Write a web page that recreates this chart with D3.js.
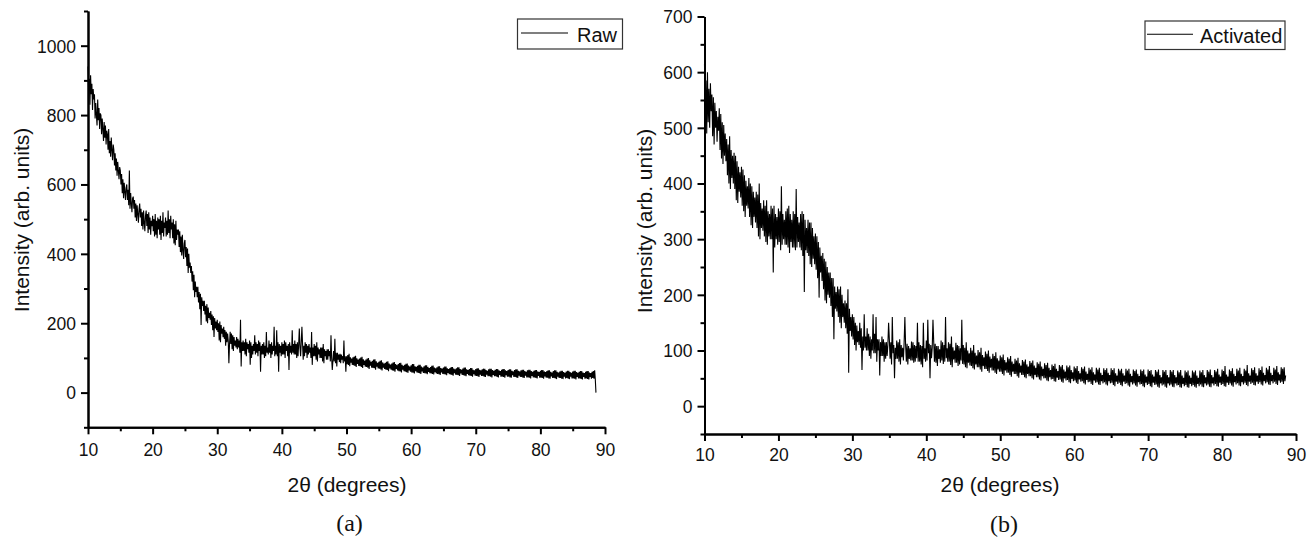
<!DOCTYPE html>
<html>
<head>
<meta charset="utf-8">
<script src="https://cdn.jsdelivr.net/npm/d3@7/dist/d3.min.js"></script>
<style>
  html, body { margin: 0; padding: 0; background: #fff; }
  svg { display: block; }
  text { font-family: "Liberation Sans", Arial, sans-serif; fill: #111; }
</style>
</head>
<body>
<svg id="chart" width="1316" height="538"></svg>
<script>
// ---- DATA ----
// 2θ grid: 10.0° to 88.6° in 0.1° steps (one row = one degree)
const twoThetaStart = 10;
const twoThetaStep = 0.1;

const rawIntensity = [
  940, 870, 905, 830, 915, 860, 890, 815, 875, 845,
  860, 790, 835, 800, 770, 845, 785, 820, 760, 805,
  800, 745, 790, 760, 725, 780, 735, 770, 715, 755,
  745, 700, 760, 690, 725, 680, 735, 700, 670, 715,
  700, 655, 690, 640, 675, 625, 665, 640, 615, 650,
  640, 600, 630, 575, 615, 560, 605, 580, 555, 590,
  600, 555, 585, 540, 640, 530, 575, 545, 520, 560,
  565, 530, 555, 505, 545, 495, 540, 515, 490, 530,
  545, 505, 530, 480, 520, 470, 525, 490, 465, 510,
  525, 480, 515, 460, 520, 470, 505, 455, 495, 480,
  510, 465, 500, 450, 515, 455, 495, 445, 505, 470,
  500, 455, 510, 440, 495, 460, 520, 450, 490, 475,
  505, 450, 495, 455, 525, 460, 500, 445, 510, 470,
  490, 445, 500, 430, 485, 425, 495, 440, 470, 455,
  470, 420, 465, 405, 450, 395, 455, 410, 385, 430,
  440, 390, 420, 365, 415, 345, 400, 360, 375, 345,
  365, 320, 350, 295, 340, 275, 320, 290, 305, 275,
  305, 260, 290, 240, 285, 195, 275, 250, 265, 235,
  265, 225, 250, 205, 255, 200, 245, 215, 230, 210,
  235, 195, 225, 180, 220, 160, 215, 185, 205, 180,
  210, 175, 200, 150, 205, 145, 195, 170, 185, 160,
  190, 155, 180, 135, 175, 145, 170, 150, 85, 140,
  175, 140, 170, 125, 165, 120, 160, 135, 150, 130,
  160, 125, 155, 130, 150, 115, 210, 75, 145, 120,
  150, 120, 145, 110, 155, 105, 145, 125, 140, 115,
  150, 80, 145, 100, 135, 110, 140, 120, 165, 110,
  145, 115, 140, 105, 150, 120, 145, 60, 135, 110,
  140, 110, 145, 100, 135, 105, 175, 115, 130, 110,
  150, 115, 140, 100, 145, 110, 135, 120, 190, 105,
  135, 110, 180, 105, 145, 60, 140, 115, 135, 105,
  145, 110, 140, 110, 150, 100, 145, 120, 135, 105,
  140, 65, 145, 115, 135, 110, 180, 115, 140, 110,
  150, 110, 140, 100, 145, 105, 140, 185, 130, 105,
  145, 190, 140, 95, 135, 105, 145, 115, 140, 100,
  135, 110, 140, 115, 130, 100, 175, 80, 130, 105,
  140, 105, 135, 95, 145, 90, 130, 110, 125, 100,
  130, 100, 130, 90, 140, 85, 125, 105, 120, 95,
  125, 95, 125, 105, 120, 90, 165, 100, 65, 92,
  120, 90, 155, 85, 115, 75, 115, 95, 110, 88,
  112, 85, 110, 95, 105, 85, 150, 90, 105, 60,
  105, 82, 108, 80, 112, 76, 102, 86, 98, 80,
  102, 79, 104, 77, 106, 74, 99, 83, 95, 77,
  98, 76, 101, 74, 103, 71, 96, 80, 92, 75,
  95, 74, 98, 72, 100, 68, 93, 78, 89, 72,
  92, 71, 95, 70, 96, 66, 90, 75, 86, 70,
  89, 69, 92, 67, 93, 64, 87, 72, 84, 68,
  86, 66, 89, 65, 90, 62, 84, 70, 81, 66,
  84, 64, 87, 63, 88, 60, 82, 68, 79, 64,
  82, 62, 85, 61, 86, 58, 80, 66, 77, 62,
  80, 60, 83, 59, 84, 57, 78, 64, 75, 60,
  79, 58, 82, 57, 82, 55, 76, 62, 74, 58,
  77, 57, 80, 56, 80, 54, 75, 61, 72, 57,
  76, 56, 79, 55, 79, 53, 74, 60, 71, 56,
  74, 55, 77, 54, 78, 52, 72, 59, 70, 55,
  73, 54, 76, 53, 76, 51, 71, 58, 69, 54,
  72, 53, 75, 52, 75, 50, 70, 57, 68, 53,
  71, 52, 74, 51, 74, 49, 69, 56, 67, 52,
  70, 51, 73, 50, 73, 48, 68, 55, 66, 51,
  69, 50, 72, 49, 72, 47, 67, 54, 65, 50,
  68, 49, 71, 48, 71, 46, 66, 53, 64, 49,
  68, 48, 70, 47, 70, 45, 66, 52, 64, 48,
  67, 48, 69, 46, 69, 45, 65, 52, 63, 47,
  67, 47, 69, 46, 69, 44, 65, 51, 63, 47,
  66, 47, 68, 45, 68, 44, 64, 51, 62, 46,
  66, 46, 68, 45, 68, 43, 64, 50, 62, 46,
  65, 46, 67, 44, 67, 43, 63, 50, 61, 45,
  65, 45, 67, 44, 67, 42, 63, 49, 61, 45,
  64, 45, 66, 43, 66, 42, 62, 49, 60, 44,
  64, 44, 66, 43, 66, 41, 62, 48, 60, 44,
  63, 44, 65, 42, 65, 41, 61, 48, 59, 43,
  63, 43, 65, 42, 65, 40, 61, 47, 59, 43,
  62, 43, 64, 41, 64, 40, 60, 47, 58, 42,
  62, 42, 64, 41, 64, 39, 60, 46, 58, 42,
  61, 42, 63, 40, 63, 39, 59, 46, 57, 41,
  61, 42, 63, 40, 63, 39, 59, 46, 57, 41,
  61, 41, 63, 40, 63, 38, 59, 45, 57, 41,
  60, 41, 62, 39, 62, 38, 58, 45, 56, 40,
  60, 41, 62, 39, 62, 38, 58, 45, 56, 40,
  60, 42, 62, 40, 64, 38, 0
];

const activatedIntensity = [
  615, 520, 585, 490, 600, 510, 570, 500, 580, 530,
  560, 485, 555, 470, 545, 500, 530, 475, 520, 495,
  535, 460, 525, 445, 510, 435, 505, 450, 490, 440,
  480, 415, 470, 400, 485, 390, 460, 410, 450, 400,
  455, 390, 450, 370, 440, 365, 430, 385, 420, 375,
  430, 360, 425, 350, 415, 340, 405, 360, 395, 355,
  410, 340, 400, 325, 395, 320, 385, 340, 375, 330,
  385, 320, 380, 305, 400, 300, 365, 320, 355, 315,
  370, 305, 360, 295, 370, 290, 350, 305, 345, 300,
  360, 300, 355, 240, 360, 285, 345, 300, 340, 290,
  355, 295, 350, 280, 395, 290, 345, 300, 335, 290,
  350, 290, 355, 285, 360, 275, 345, 295, 335, 285,
  350, 285, 345, 280, 390, 285, 340, 295, 330, 285,
  345, 280, 350, 270, 345, 205, 335, 280, 320, 275,
  335, 270, 330, 255, 330, 250, 320, 265, 305, 255,
  310, 245, 305, 230, 295, 195, 285, 240, 270, 225,
  275, 210, 265, 190, 260, 185, 250, 200, 240, 195,
  240, 180, 230, 160, 230, 120, 215, 175, 205, 170,
  215, 160, 210, 150, 215, 140, 200, 160, 185, 150,
  190, 140, 185, 130, 210, 60, 175, 135, 160, 125,
  165, 120, 160, 110, 150, 100, 145, 115, 135, 110,
  150, 105, 140, 65, 125, 100, 165, 105, 125, 100,
  140, 100, 130, 90, 125, 85, 120, 100, 165, 95,
  130, 95, 160, 80, 120, 100, 120, 55, 115, 90,
  125, 90, 120, 80, 115, 85, 115, 90, 110, 150,
  120, 85, 115, 75, 160, 95, 110, 50, 105, 85,
  118, 85, 115, 80, 120, 75, 110, 88, 105, 82,
  115, 160, 110, 80, 112, 75, 108, 85, 104, 82,
  116, 82, 115, 78, 110, 80, 108, 86, 150, 80,
  115, 80, 110, 75, 108, 70, 150, 85, 104, 80,
  118, 82, 155, 95, 112, 50, 110, 86, 105, 155,
  116, 80, 112, 78, 108, 72, 108, 85, 102, 78,
  118, 82, 115, 76, 110, 80, 160, 86, 104, 80,
  115, 80, 112, 74, 125, 70, 106, 84, 100, 78,
  114, 78, 110, 72, 108, 75, 104, 82, 155, 76,
  110, 75, 105, 70, 115, 68, 100, 78, 95, 73,
  105, 72, 100, 68, 110, 66, 96, 75, 91, 70,
  101, 70, 97, 66, 105, 62, 92, 72, 88, 67,
  98, 67, 94, 63, 100, 60, 89, 69, 85, 64,
  94, 64, 90, 60, 97, 58, 86, 66, 82, 62,
  91, 62, 88, 58, 93, 55, 83, 64, 79, 60,
  88, 60, 85, 56, 90, 53, 80, 62, 76, 58,
  85, 58, 82, 54, 87, 51, 77, 60, 73, 56,
  83, 56, 80, 52, 84, 50, 75, 58, 71, 54,
  81, 54, 78, 50, 82, 48, 73, 56, 69, 52,
  79, 52, 76, 48, 80, 46, 71, 54, 67, 50,
  77, 50, 74, 46, 78, 45, 69, 52, 65, 48,
  75, 49, 72, 45, 76, 44, 67, 51, 63, 47,
  74, 48, 71, 44, 74, 42, 66, 50, 62, 46,
  73, 47, 70, 43, 73, 41, 65, 49, 61, 45,
  71, 46, 68, 42, 72, 40, 63, 48, 59, 44,
  70, 45, 67, 41, 71, 39, 62, 47, 58, 43,
  69, 44, 66, 40, 70, 38, 61, 46, 57, 42,
  69, 43, 66, 39, 69, 38, 60, 45, 56, 41,
  68, 43, 65, 39, 68, 37, 60, 45, 56, 41,
  68, 42, 65, 38, 68, 36, 59, 44, 55, 40,
  67, 42, 64, 38, 67, 36, 59, 44, 55, 40,
  67, 41, 64, 37, 67, 35, 58, 43, 54, 39,
  66, 41, 63, 37, 66, 35, 58, 43, 54, 39,
  66, 40, 63, 36, 66, 34, 57, 42, 53, 38,
  66, 40, 63, 36, 65, 34, 57, 42, 53, 38,
  65, 39, 62, 35, 66, 33, 56, 41, 52, 37,
  65, 39, 62, 35, 65, 33, 56, 41, 52, 37,
  65, 39, 62, 35, 65, 34, 56, 41, 52, 37,
  64, 38, 61, 34, 65, 33, 55, 40, 51, 36,
  64, 38, 61, 34, 64, 33, 55, 40, 51, 36,
  64, 38, 61, 35, 64, 33, 55, 40, 51, 36,
  64, 39, 61, 35, 65, 34, 56, 41, 52, 37,
  65, 39, 62, 35, 66, 34, 56, 41, 52, 37,
  65, 40, 62, 36, 67, 35, 57, 42, 53, 38,
  66, 40, 63, 36, 72, 35, 57, 42, 53, 38,
  66, 41, 63, 37, 68, 35, 58, 43, 54, 39,
  67, 41, 64, 37, 69, 36, 58, 43, 54, 39,
  67, 42, 64, 38, 74, 36, 59, 44, 55, 40,
  68, 42, 65, 38, 70, 37, 59, 44, 55, 40,
  68, 43, 65, 39, 71, 37, 60, 45, 56, 41,
  69, 43, 66, 39, 72, 38, 60, 45, 56, 41,
  69, 44, 66, 40, 72, 38, 61, 46, 57, 42,
  70, 44, 67, 40, 70, 45, 55
];

const xMajorTicks = [10, 20, 30, 40, 50, 60, 70, 80, 90];
const xMinorTicks = [15, 25, 35, 45, 55, 65, 75, 85];
const rawYMajorTicks = [0, 200, 400, 600, 800, 1000];
const rawYMinorTicks = [-100, 100, 300, 500, 700, 900, 1100];
const actYMajorTicks = [0, 100, 200, 300, 400, 500, 600, 700];
const actYMinorTicks = [-50, 50, 150, 250, 350, 450, 550, 650];

const xTitle = "2θ (degrees)";
const yTitle = "Intensity (arb. units)";
const seriesNames = ["Raw", "Activated"];
const panelLabels = ["(a)", "(b)"];

// ---- LAYOUT ----
const panels = [
  {
    values: rawIntensity, name: seriesNames[0], label: panelLabels[0],
    xRange: [88, 605], yRange: [427.3, 11], yDomain: [-100, 1100],
    yMajor: rawYMajorTicks, yMinor: rawYMinorTicks,
    xTickBaseline: 456, yTitleX: 28.5, yTitleY: 220, xTitleX: 347, xTitleY: 492,
    labelX: 349.5, labelY: 531,
    legend: { x: 517.5, y: 19, w: 105, h: 30, lineX0: 521, lineX1: 568, textX: 577 }
  },
  {
    values: activatedIntensity, name: seriesNames[1], label: panelLabels[1],
    xRange: [704.5, 1296], yRange: [434, 16.5], yDomain: [-50, 700],
    yMajor: actYMajorTicks, yMinor: actYMinorTicks,
    xTickBaseline: 460.5, yTitleX: 651.5, yTitleY: 221, xTitleX: 1000, xTitleY: 492,
    labelX: 1004, labelY: 532,
    legend: { x: 1145, y: 21, w: 140, h: 28.5, lineX0: 1147, lineX1: 1193, textX: 1200 }
  }
];

const svg = d3.select("#chart");
const fmt = d3.format("d");

panels.forEach(p => {
  const x = d3.scaleLinear().domain([10, 90]).range(p.xRange);
  const y = d3.scaleLinear().domain(p.yDomain).range(p.yRange);
  const g = svg.append("g");

  const pts = p.values.map((v, i) => [twoThetaStart + i * twoThetaStep, v]);

  // data line
  g.append("path")
    .datum(pts)
    .attr("fill", "none")
    .attr("stroke", "#000")
    .attr("stroke-width", 1.1)
    .attr("stroke-linejoin", "miter")
    .attr("d", d3.line().x(d => x(d[0])).y(d => y(d[1])));

  // minor ticks
  const xMinorAxis = d3.axisBottom(x).tickValues(xMinorTicks).tickSize(4).tickSizeOuter(0).tickFormat("");
  const yMinorAxis = d3.axisLeft(y).tickValues(p.yMinor).tickSize(4).tickSizeOuter(0).tickFormat("");
  g.append("g").attr("transform", `translate(0,${p.yRange[0]})`).call(xMinorAxis);
  g.append("g").attr("transform", `translate(${p.xRange[0]},0)`).call(yMinorAxis);

  // major axes
  const xAxis = d3.axisBottom(x).tickValues(xMajorTicks).tickSize(7).tickSizeOuter(0).tickFormat(fmt);
  const yAxis = d3.axisLeft(y).tickValues(p.yMajor).tickSize(7).tickSizeOuter(0).tickFormat(fmt);
  const gx = g.append("g").attr("transform", `translate(0,${p.yRange[0]})`).call(xAxis);
  const gy = g.append("g").attr("transform", `translate(${p.xRange[0]},0)`).call(yAxis);

  g.selectAll(".domain").attr("stroke", "#000").attr("stroke-width", 2);
  g.selectAll(".tick line").attr("stroke", "#000").attr("stroke-width", 2);

  gx.selectAll(".tick text")
    .attr("dy", null)
    .attr("y", p.xTickBaseline - p.yRange[0])
    .style("font-size", "17.5px")
    .style("font-family", "'Liberation Sans', Arial, sans-serif")
    .attr("fill", "#111");
  gy.selectAll(".tick text")
    .attr("x", -12)
    .attr("dy", "0.36em")
    .style("font-size", "17.5px")
    .style("font-family", "'Liberation Sans', Arial, sans-serif")
    .attr("fill", "#111");

  // axis titles
  g.append("text")
    .attr("transform", `translate(${p.yTitleX},${p.yTitleY}) rotate(-90)`)
    .attr("text-anchor", "middle")
    .style("font-size", "21px")
    .text(yTitle);
  g.append("text")
    .attr("x", p.xTitleX).attr("y", p.xTitleY)
    .attr("text-anchor", "middle")
    .style("font-size", "21px")
    .text(xTitle);

  // panel label
  g.append("text")
    .attr("x", p.labelX).attr("y", p.labelY)
    .attr("text-anchor", "middle")
    .style("font-family", "'Liberation Serif', 'Times New Roman', serif")
    .style("font-size", "24px")
    .text(p.label);

  // legend
  const L = p.legend;
  g.append("rect")
    .attr("x", L.x).attr("y", L.y).attr("width", L.w).attr("height", L.h)
    .attr("fill", "#fff").attr("stroke", "#333").attr("stroke-width", 1.2);
  g.append("line")
    .attr("x1", L.lineX0).attr("x2", L.lineX1)
    .attr("y1", L.y + L.h / 2 - 1).attr("y2", L.y + L.h / 2 - 1)
    .attr("stroke", "#000").attr("stroke-width", 1.2);
  g.append("text")
    .attr("x", L.textX).attr("y", L.y + L.h / 2 + 7.5)
    .style("font-size", "20px")
    .text(p.name);
});
</script>
</body>
</html>
